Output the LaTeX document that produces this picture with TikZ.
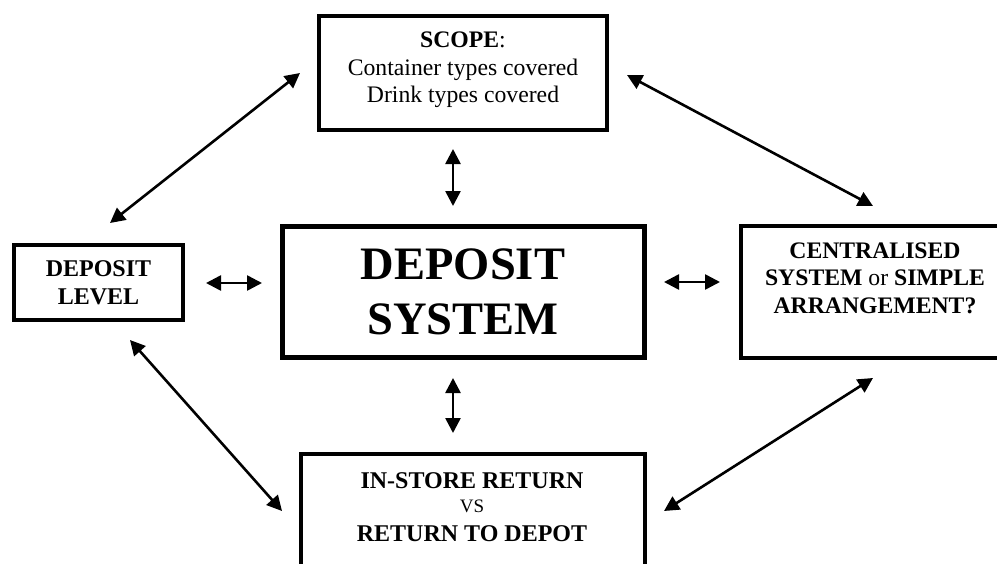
\documentclass[tikz,border=0pt]{standalone}
\usepackage{fontspec}
\setmainfont{Liberation Serif}
\usetikzlibrary{arrows.meta}
\newcommand{\vsword}{{\mdseries\fontsize{19}{21}\selectfont VS}}
\begin{document}
\begin{tikzpicture}[x=1pt,y=-1pt,
  box/.style={draw=black,line width=4.5pt,fill=white,inner sep=0pt,minimum width=#1},
  conn/.style={line width=2.6pt,{Triangle[length=15pt,width=15pt]}-{Triangle[length=15pt,width=15pt]}},
  txt/.style={align=center,inner sep=0pt,font=\fontsize{23.7}{27.5}\selectfont}
]
\useasboundingbox (0,0) rectangle (997,563);
% boxes
\node[box=288pt,minimum height=114pt] (scope) at (463,73) {};
\node[box=169pt,minimum height=75pt] (level) at (98.5,282.5) {};
\node[box=362pt,minimum height=131pt,line width=5pt] (sys) at (463.5,292) {};
\node[box=270pt,minimum height=132pt] (cent) at (876,292) {};
\node[box=344pt,minimum height=126pt] (ret) at (473,517) {};
% texts
\node[txt] (scopeT) at (463,70) {\textbf{SCOPE}:\\Container types covered\\Drink types covered};
\node[txt,font=\bfseries\fontsize{24}{28}\selectfont] (levelT) at (98.5,283) {DEPOSIT\\LEVEL};
\node[txt,font=\bfseries\fontsize{46.5}{55}\selectfont] (sysT) at (463,291.5) {DEPOSIT\\SYSTEM};
\node[txt] (centT) at (875,278) {\textbf{CENTRALISED}\\\textbf{SYSTEM} or \textbf{SIMPLE}\\\textbf{ARRANGEMENT?}};
\node[txt,font=\bfseries\fontsize{24}{28}\selectfont] (retT) at (472,507) {IN-STORE RETURN\\[-4pt]\vsword\\[1.5pt]RETURN TO DEPOT};
% connector ends
\coordinate (tlA) at (110,223); \coordinate (tlB) at (300,73);
\coordinate (trA) at (627,75);  \coordinate (trB) at (873,206);
\coordinate (blA) at (130,340); \coordinate (blB) at (282,511);
\coordinate (brA) at (873,378); \coordinate (brB) at (664,511);
\coordinate (lhA) at (206,283); \coordinate (lhB) at (262,283);
\coordinate (rhA) at (664,282); \coordinate (rhB) at (720,282);
\coordinate (tvA) at (453,149); \coordinate (tvB) at (453,206);
\coordinate (bvA) at (453,378); \coordinate (bvB) at (453,433);
\draw[conn] (tlA) -- (tlB);
\draw[conn] (trA) -- (trB);
\draw[conn] (blA) -- (blB);
\draw[conn] (brA) -- (brB);
\draw[conn] (lhA) -- (lhB);
\draw[conn] (rhA) -- (rhB);
\draw[conn] (tvA) -- (tvB);
\draw[conn] (bvA) -- (bvB);
\end{tikzpicture}
\end{document}
